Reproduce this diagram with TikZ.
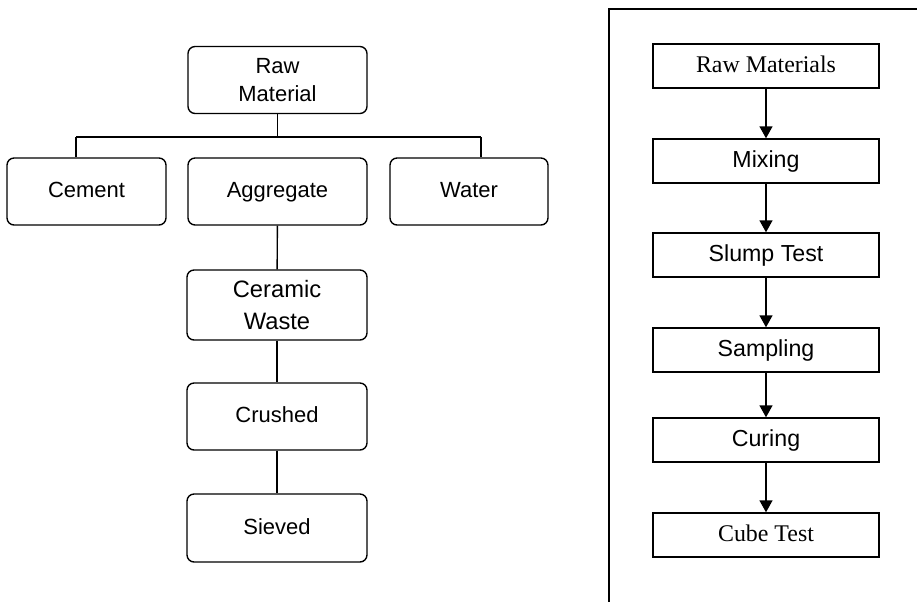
\documentclass[tikz,border=0pt]{standalone}
\usepackage{fontspec}
\setmainfont{Liberation Serif}
\setsansfont{Liberation Sans}
\usetikzlibrary{arrows.meta}
\tikzset{
  treebox/.style={draw=black, line width=0.8pt, rounded corners=4pt, align=center, inner sep=0pt,
    minimum height=1.34cm, font=\sffamily\fontsize{12.5}{15.5}\selectfont},
  oneline/.style={text height=0.72em, text depth=0pt},
  stagebox/.style={draw=black, line width=0.8pt, inner sep=0pt, minimum width=4.52cm, minimum height=0.88cm,
    text height=0.7em, text depth=0pt, font=\sffamily\fontsize{13.2}{15}\selectfont},
  link/.style={line width=0.8pt},
  flow/.style={line width=0.8pt, -{Triangle[width=0.26cm,length=0.24cm]}}
}
\begin{document}
\begin{tikzpicture}[x=0.02cm, y=-0.02cm]
  \useasboundingbox (0,0) rectangle (917,602);
  % Left tree: materials
  \node [treebox, minimum width=3.58cm] (raw) at (277.5,80) {Raw\\Material};
  \node [treebox, oneline, minimum width=3.18cm] (cement) at (86.5,191.5) {Cement};
  \node [treebox, oneline, minimum width=3.58cm] (aggregate) at (277.5,191.5) {Aggregate};
  \node [treebox, oneline, minimum width=3.16cm] (water) at (469,191.5) {Water};
  \node [treebox, minimum width=3.6cm, minimum height=1.4cm, font=\sffamily\fontsize{13.5}{18.5}\selectfont] (ceramic) at (277,305) {Ceramic\\Waste};
  \node [treebox, oneline, minimum width=3.6cm] (crushed) at (277,416.5) {Crushed};
  \node [treebox, oneline, minimum width=3.6cm, minimum height=1.36cm] (sieved) at (277,528) {Sieved};
  % Branch bar
  \coordinate (bar-c) at (76,137);
  \coordinate (bar-w) at (481,137);
  \draw [link] (raw) -- (raw |- bar-c);
  \draw [link] (bar-c) -- (bar-w);
  \draw [link] (bar-c) -- (bar-c |- cement.north);
  \draw [link] (bar-w) -- (bar-w |- water.north);
  \draw [link] (aggregate) -- (ceramic);
  \draw [link] (ceramic) -- (crushed);
  \draw [link] (crushed) -- (sieved);
  % Right panel: test procedure
  \coordinate (frame-b) at (609,602);
  \coordinate (frame-c) at (609,9);
  \coordinate (frame-r) at (917,9);
  \draw [line width=1pt] (frame-b) -- (frame-c) -- (frame-r);
  \node [stagebox, font=\rmfamily\fontsize{13.6}{15}\selectfont] (stage-1) at (766,66) {Raw Materials};
  \foreach \t/\y [count=\i from 2] in {Mixing/161, Slump Test/255, Sampling/350, Curing/440}
    \node [stagebox] (stage-\i) at (766,\y) {\t};
  \node [stagebox, font=\rmfamily\fontsize{13.6}{15}\selectfont] (stage-6) at (766,535) {Cube Test};
  \foreach \i [evaluate=\i as \j using int(\i+1)] in {1,...,5}
    \draw [flow] (stage-\i) -- (stage-\j);
\end{tikzpicture}
\end{document}
